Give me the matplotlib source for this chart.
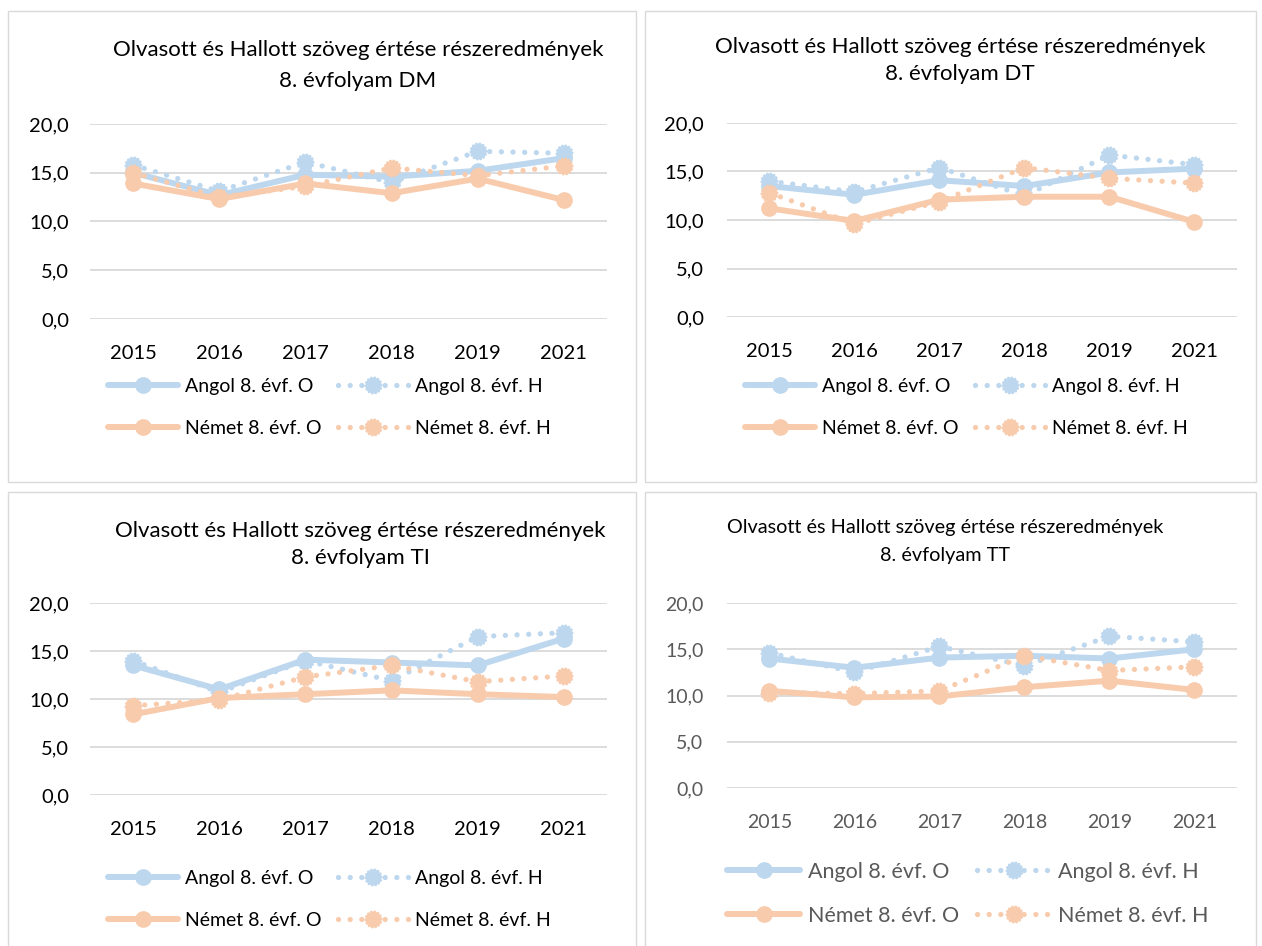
import numpy as np
import matplotlib
matplotlib.use("Agg")
import matplotlib.pyplot as plt
from matplotlib.path import Path
from matplotlib.patches import Rectangle

plt.rcParams['font.family'] = ['Lato', 'DejaVu Sans']

years = ['2015', '2016', '2017', '2018', '2019', '2021']
yticks = [0, 5, 10, 15, 20]
ytick_labels = ['0,0', '5,0', '10,0', '15,0', '20,0']
series_names = ['Angol 8. évf. O', 'Angol 8. évf. H', 'Német 8. évf. O', 'Német 8. évf. H']
panel_titles = ['DM', 'DT', 'TI', 'TT']

# values
dm_angol_o = [15.0, 12.7, 14.8, 14.6, 15.2, 16.5]
dm_angol_h = [15.8, 13.1, 16.1, 14.0, 17.2, 17.0]
dm_nemet_o = [13.9, 12.3, 13.9, 12.9, 14.4, 12.2]
dm_nemet_h = [15.0, 12.5, 13.6, 15.5, 14.7, 15.7]

dt_angol_o = [13.5, 12.6, 14.1, 13.5, 14.9, 15.3]
dt_angol_h = [14.0, 12.9, 15.4, 12.5, 16.7, 15.7]
dt_nemet_o = [11.2, 9.9, 12.1, 12.4, 12.4, 9.8]
dt_nemet_h = [12.8, 9.6, 11.9, 15.4, 14.3, 13.8]

ti_angol_o = [13.5, 11.0, 14.1, 13.8, 13.5, 16.3]
ti_angol_h = [14.0, 10.7, 14.0, 11.9, 16.5, 16.9]
ti_nemet_o = [8.4, 10.1, 10.5, 10.9, 10.5, 10.2]
ti_nemet_h = [9.3, 9.9, 12.3, 13.5, 11.8, 12.4]

tt_angol_o = [14.0, 13.0, 14.1, 14.3, 14.0, 15.0]
tt_angol_h = [14.6, 12.5, 15.3, 13.2, 16.4, 15.8]
tt_nemet_o = [10.5, 9.8, 9.9, 10.9, 11.6, 10.6]
tt_nemet_h = [10.3, 10.2, 10.5, 14.3, 12.7, 13.1]

panel_data = [
    [dm_angol_o, dm_angol_h, dm_nemet_o, dm_nemet_h],
    [dt_angol_o, dt_angol_h, dt_nemet_o, dt_nemet_h],
    [ti_angol_o, ti_angol_h, ti_nemet_o, ti_nemet_h],
    [tt_angol_o, tt_angol_h, tt_nemet_o, tt_nemet_h],
]

blue = '#BDD7EE'
orange = '#F8CBAD'
colors = [blue, blue, orange, orange]

# gear-like marker (Excel circle with dotted edge)
n_teeth = 14
ang = np.linspace(0, 2 * np.pi, 4 * n_teeth, endpoint=False)
rad = np.where((np.arange(4 * n_teeth) // 2) % 2 == 0, 1.0, 0.84)
gear_verts = np.column_stack([rad * np.cos(ang), rad * np.sin(ang)])
gear = Path(np.vstack([gear_verts, gear_verts[:1]]), closed=True)

W, H = 1262, 946
fig = plt.figure(figsize=(W / 100, H / 100), dpi=100)


def px_rect(x0, y0, x1, y1):
    return [x0 / W, 1 - y1 / H, (x1 - x0) / W, (y1 - y0) / H]


# panel frames (pixels)
frames = [(8, 11, 636, 482), (645, 11, 1256, 482), (8, 492, 636, 950), (645, 492, 1256, 950)]
for (x0, y0, x1, y1) in frames:
    fig.patches.append(Rectangle((x0 / W, 1 - y1 / H), (x1 - x0) / W, (y1 - y0) / H,
                                 transform=fig.transFigure, fill=False,
                                 edgecolor='#D9D9D9', linewidth=1.0))

axes_px = [(90, 124, 607, 319), (727, 123, 1237, 317), (90, 603, 607, 795), (727, 603, 1237, 788)]
title_pos = [(358, 50, 81), (960, 47, 74), (360, 531, 558), (945, 527, 555)]
legend_left = [108, 745, 108, 727]
legend_top = [378, 378, 870, 862]
ypad = [15, 16.5, 15, 17]

for i in range(4):
    ax = fig.add_axes(px_rect(*axes_px[i]))
    small = i == 3
    txtcol = '#595959' if small else 'black'
    tick_fs = 14 if small else 14.5
    leg_fs = 15.5 if small else 14

    x = np.arange(len(years))
    d = panel_data[i]
    handles = []
    for k in range(4):
        if k % 2 == 0:
            h, = ax.plot(x, d[k], color=colors[k], lw=4.3, marker='o', ms=11,
                         solid_capstyle='round', solid_joinstyle='round', label=series_names[k])
        else:
            h, = ax.plot(x, d[k], color=colors[k], lw=3.8, linestyle=(0, (0.01, 2.2)),
                         dash_capstyle='round', marker=gear, ms=12, label=series_names[k])
        handles.append(h)

    ax.set_xlim(-0.5, len(years) - 0.5)
    ax.set_ylim(0, 20)
    ax.set_yticks(yticks)
    ax.set_yticklabels(ytick_labels)
    ax.set_xticks(x)
    ax.set_xticklabels(years)
    ax.tick_params(length=0, labelsize=tick_fs, colors=txtcol)
    ax.tick_params(axis='x', pad=19)
    ax.tick_params(axis='y', pad=ypad[i])
    for s in ax.spines.values():
        s.set_visible(False)
    ax.grid(axis='y', color='#D9D9D9', lw=1.3)
    ax.set_axisbelow(True)

    tx, ty1, ty2 = title_pos[i]
    tfs = 14.3 if small else 16
    fig.text(tx / W, 1 - ty1 / H, 'Olvasott és Hallott szöveg értése részeredmények',
             ha='center', va='center', fontsize=tfs, color='black')
    fig.text(tx / W, 1 - ty2 / H, '8. évfolyam ' + panel_titles[i],
             ha='center', va='center', fontsize=tfs, color='black')

    ax.legend([handles[0], handles[2], handles[1], handles[3]],
              [series_names[0], series_names[2], series_names[1], series_names[3]],
              ncol=2, frameon=False, loc='upper left',
              bbox_to_anchor=(legend_left[i] / W, 1 - legend_top[i] / H),
              bbox_transform=fig.transFigure, borderpad=0, borderaxespad=0,
              fontsize=leg_fs, handlelength=3.6 if not small else 3.4,
              handletextpad=0.35, columnspacing=0.85,
              labelspacing=1.3 if not small else 1.1, labelcolor=txtcol)

fig.savefig('out.png', dpi=100)
